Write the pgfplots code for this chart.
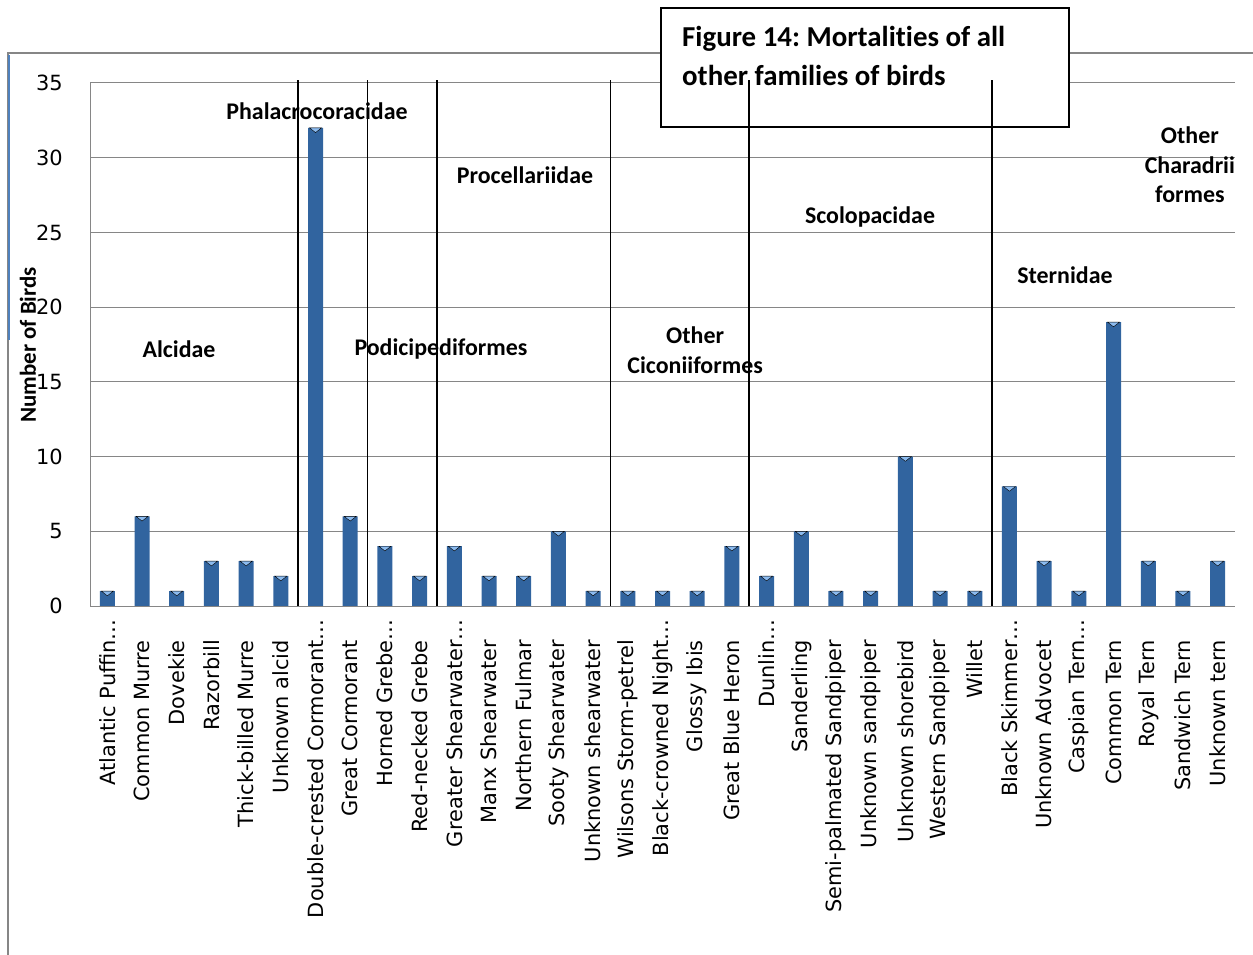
\documentclass[border=0pt]{standalone}
\usepackage{pgfplots}
\usepackage{pgfplotstable}
\pgfplotsset{compat=1.18}
\usepackage{fontspec}
\setmainfont{DejaVu Sans}
\newfontfamily\calib[Ligatures=NoCommon]{Carlito}
\frenchspacing

\definecolor{gridgray}{HTML}{868686}
\definecolor{barDark}{HTML}{31649F}
\definecolor{barLight}{HTML}{5592DC}
\definecolor{barTip}{HTML}{8CBBEF}
\definecolor{selBlue}{HTML}{4F81BD}

% mortalities per species (index, number of birds)
\pgfplotstableread{
idx count
0 1
1 6
2 1
3 3
4 3
5 2
6 32
7 6
8 4
9 2
10 4
11 2
12 2
13 5
14 1
15 1
16 1
17 1
18 4
19 2
20 5
21 1
22 1
23 10
24 1
25 1
26 8
27 3
28 1
29 19
30 3
31 1
32 3
}\birds

\newcommand{\trunc}{\rlap{…}}

\begin{document}
\begin{tikzpicture}
\useasboundingbox (0bp,0bp) rectangle (1253bp,955bp);
% chart area frame
\draw[gridgray, line width=2bp] (8bp,0bp) -- (8bp,902bp) -- (1253bp,902bp);
\draw[selBlue, line width=2.5bp] (9bp,900bp) -- (9bp,615bp);
\begin{axis}[
  at={(90bp,349bp)}, anchor=south west,
  scale only axis, width=1145bp, height=523bp,
  xmin=-0.5, xmax=32.5, ymin=0, ymax=35,
  ytick={0,5,...,35},
  xtick={0,...,32},
  xticklabels={Atlantic Puffin\trunc,Common Murre,Dovekie,Razorbill,Thick-billed Murre,Unknown alcid,Double-crested Cormorant\trunc,Great Cormorant,Horned Grebe\trunc,Red-necked Grebe,Greater Shearwater\trunc,Manx Shearwater,Northern Fulmar,Sooty Shearwater,Unknown shearwater,Wilsons Storm-petrel,Black-crowned Night\trunc,Glossy Ibis,Great Blue Heron,Dunlin\trunc,Sanderling,Semi-palmated Sandpiper,Unknown sandpiper,Unknown shorebird,Western Sandpiper,Willet,Black Skimmer\trunc,Unknown Advocet,Caspian Tern\trunc,Common Tern,Royal Tern,Sandwich Tern,Unknown tern},
  ymajorgrids,
  grid style={gridgray, line width=1bp},
  axis lines*=left,
  axis line style={gridgray, line width=1bp},
  major tick length=0pt,
  /pgf/number format/assume math mode=true,
  xticklabel style={rotate=90, anchor=east, inner sep=0pt, font=\fontsize{21}{25}\selectfont},
  yticklabel style={anchor=east, inner sep=0pt, font=\fontsize{21}{25}\selectfont},
  xticklabel shift=34bp,
  yticklabel shift=27bp,
  clip=false,
]
\addplot[ybar, bar width=15bp, draw=none,
  left color=barDark, middle color=barLight, right color=barDark]
  table[x=idx, y=count] {\birds};
% bevelled cap on each column
\addplot[only marks, mark=triangle*, mark size=7bp, yshift=-1.6bp,
  mark options={rotate=180, yscale=0.45, fill=barTip, draw=none}]
  table[x=idx, y=count] {\birds};

% caption box
\filldraw[fill=white, draw=black, line width=2bp]
  (axis cs:15.957,40.02) rectangle (axis cs:27.716,32.06);
\node[anchor=base west, inner sep=0pt, font={\calib\bfseries\fontsize{29}{33}\selectfont}]
  at (axis cs:16.562,37.45) {Figure 14: Mortalities of all};
\node[anchor=base west, inner sep=0pt, font={\calib\bfseries\fontsize{29}{33}\selectfont}]
  at (axis cs:16.562,34.8) {other families of birds};

% family separators
\pgfplotsinvokeforeach{5.5,7.5,9.5,14.5,18.5,25.5}{
  \draw[black, line width=1.5bp] (axis cs:#1,0) -- (axis cs:#1,35.2);
}

% family names
\begin{scope}[every node/.style={align=center, inner sep=0pt,
    font={\calib\bfseries\fontsize{24}{29.5}\selectfont}}]
\node at (axis cs:2.065,17.2) {Alcidae};
\node at (axis cs:6.042,33.13) {Phalacrocoracidae};
\node at (axis cs:9.616,17.2) {Podicipediformes};
\node at (axis cs:12.037,28.84) {Procellariidae};
\node at (axis cs:16.94,17.13) {Other\\Ciconiiformes};
\node at (axis cs:21.98,26.03) {Scolopacidae};
\node at (axis cs:27.6,22.15) {Sternidae};
\node at (axis cs:31.2,29.51) {Other\\Charadrii\\formes};
\end{scope}

\node[rotate=90, inner sep=0pt, font={\calib\bfseries\fontsize{23}{27}\selectfont}]
  at (axis cs:-2.287,17.47) {Number of Birds};
\end{axis}
\end{tikzpicture}
\end{document}
